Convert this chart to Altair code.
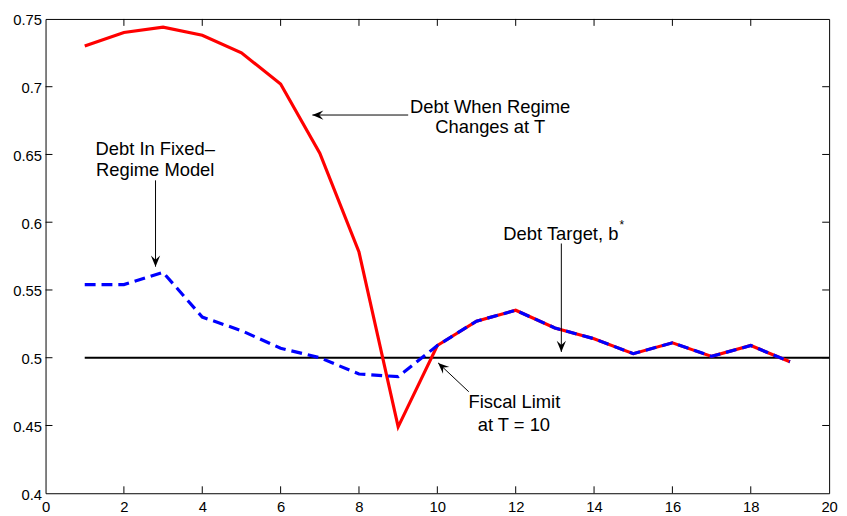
import altair as alt
import pandas as pd

# ---------------- data ----------------
periods = list(range(1, 20))
debt_regime_change = [0.730, 0.740, 0.744, 0.738, 0.725, 0.702, 0.651, 0.578, 0.449,
                      0.509, 0.527, 0.535, 0.522, 0.514, 0.503, 0.511, 0.501, 0.509, 0.497]
debt_fixed_regime = [0.554, 0.554, 0.563, 0.530, 0.520, 0.507, 0.500, 0.488, 0.486,
                     0.509, 0.527, 0.535, 0.522, 0.514, 0.503, 0.511, 0.501, 0.509, 0.497]
target_x = [1, 20]
target_y = [0.5, 0.5]

x_ticks = [0, 2, 4, 6, 8, 10, 12, 14, 16, 18, 20]
y_ticks = [0.4, 0.45, 0.5, 0.55, 0.6, 0.65, 0.7, 0.75]

ann_text = ["Debt When Regime", "Changes at T", "Debt In Fixed\u2013", "Regime Model",
            "Debt Target, b", "Fiscal Limit", "at T = 10"]
ann_x = [11.349, 11.349, 2.799, 2.799, 13.153, 11.967, 11.955]
ann_y = [0.6809, 0.6661, 0.6494, 0.6341, 0.5872, 0.4627, 0.4457]

star_text = ["*"]
star_x = [14.711]
star_y = [0.5949]

arrow_x0 = [9.256, 2.807, 13.165, 10.802]
arrow_y0 = [0.6791, 0.6309, 0.5843, 0.4749]
arrow_x1 = [6.810, 2.807, 13.165, 10.020]
arrow_y1 = [0.6791, 0.5672, 0.5043, 0.4962]
arrow_angle = [90, 0, 0, 133]

# ---------------- tables ----------------
W, H = 793, 480
FONT = "Liberation Sans"

lines_df = pd.DataFrame({"t": periods, "red": debt_regime_change, "blue": debt_fixed_regime})
target_df = pd.DataFrame({"t": target_x, "v": target_y})
ann_df = pd.DataFrame({"x": ann_x, "y": ann_y, "label": ann_text})
star_df = pd.DataFrame({"x": star_x, "y": star_y, "label": star_text})
arrow_df = pd.DataFrame({"x0": arrow_x0, "y0": arrow_y0, "x1": arrow_x1,
                         "y1": arrow_y1, "angle": arrow_angle})
xt_df = pd.DataFrame({"t": x_ticks[1:-1]})
yt_df = pd.DataFrame({"v": y_ticks[1:-1]})

xscale = alt.Scale(domain=[0, 20], nice=False, zero=False)
yscale = alt.Scale(domain=[0.4, 0.75], nice=False, zero=False)

x_axis = alt.Axis(values=x_ticks, format="d", labelFlush=False, ticks=False, tickSize=0,
                  domain=False, grid=False, labelPadding=6, title=None,
                  labelOverlap=False)
y_axis = alt.Axis(values=y_ticks, format=".2~f", labelFlush=False, ticks=False, tickSize=0,
                  domain=False, grid=False, labelPadding=4, title=None,
                  labelOverlap=False, labelOffset=1)


def X(field):
    return alt.X(field, scale=xscale, axis=x_axis)


def Y(field):
    return alt.Y(field, scale=yscale, axis=y_axis)


target = alt.Chart(target_df).mark_line(color="black", strokeWidth=2).encode(
    x=X("t:Q"), y=Y("v:Q"),
)

red = alt.Chart(lines_df).mark_line(color="#ff0000", strokeWidth=3.2).encode(
    x=X("t:Q"), y=Y("red:Q"),
)

blue = alt.Chart(lines_df).mark_line(color="#0000ff", strokeWidth=3.2, strokeDash=[11, 6]).encode(
    x=X("t:Q"), y=Y("blue:Q"),
)

ann = alt.Chart(ann_df).mark_text(font=FONT, fontSize=18.6, color="black",
                                  align="center", baseline="alphabetic").encode(
    x=X("x:Q"), y=Y("y:Q"), text="label:N",
)

star = alt.Chart(star_df).mark_text(font=FONT, fontSize=12, color="black",
                                    align="center", baseline="alphabetic").encode(
    x=X("x:Q"), y=Y("y:Q"), text="label:N",
)

shafts = alt.Chart(arrow_df).mark_rule(color="black", strokeWidth=1).encode(
    x=X("x0:Q"), y=Y("y0:Q"), x2="x1:Q", y2="y1:Q",
)

head_path = "M0,0 L-0.42,-1 L0,-0.62 L0.42,-1 Z"
heads = alt.Chart(arrow_df).mark_point(shape=head_path, filled=True, size=500,
                                       color="black", opacity=1, strokeWidth=0).encode(
    x=X("x1:Q"), y=Y("y1:Q"),
    angle=alt.Angle("angle:Q", scale=None),
)

tick_len = 7
xt_bottom = alt.Chart(xt_df).mark_rule(color="black", strokeWidth=1).encode(
    x=X("t:Q"), y=alt.value(H), y2=alt.value(H - tick_len),
)
xt_top = alt.Chart(xt_df).mark_rule(color="black", strokeWidth=1).encode(
    x=X("t:Q"), y=alt.value(0), y2=alt.value(tick_len),
)
yt_left = alt.Chart(yt_df).mark_rule(color="black", strokeWidth=1).encode(
    y=Y("v:Q"), x=alt.value(0), x2=alt.value(tick_len),
)
yt_right = alt.Chart(yt_df).mark_rule(color="black", strokeWidth=1).encode(
    y=Y("v:Q"), x=alt.value(W), x2=alt.value(W - tick_len),
)

chart = alt.layer(
    target, red, blue, xt_bottom, xt_top, yt_left, yt_right, shafts, heads, ann, star
).properties(
    width=W, height=H,
    autosize="none",
    padding={"left": 38, "top": 8, "right": 10, "bottom": 24},
    background="white",
).configure_view(
    stroke="black", strokeWidth=1
).configure_axis(
    labelFont=FONT, labelFontSize=15, labelColor="black"
)

chart.save("out.html", embed_options={"renderer": "svg", "actions": False})
